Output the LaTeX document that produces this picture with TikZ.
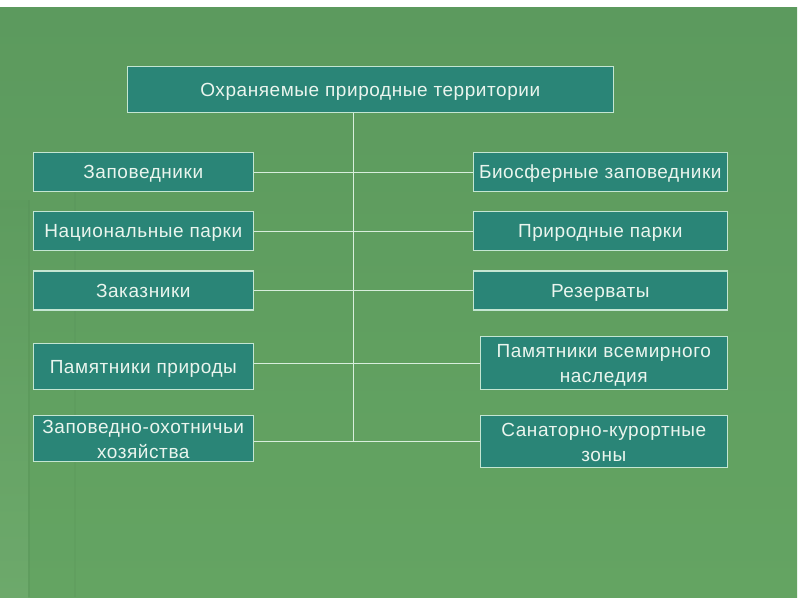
\documentclass[tikz,border=0pt]{standalone}
\usepackage{fontspec}
\setmainfont[LetterSpace=3]{Liberation Sans}
\definecolor{bgtop}{HTML}{5C9A5E}
\definecolor{bgbot}{HTML}{64A462}
\definecolor{boxfill}{HTML}{2A8577}
\definecolor{boxline}{HTML}{C4E6D2}
\definecolor{txt}{HTML}{EAF5EE}
\definecolor{conn}{HTML}{D8EEDC}
\tikzset{
  catbox/.style={draw=boxline, line width=1.3pt, fill=boxfill, text=txt,
    inner sep=0pt, align=center, text height=13.6pt, text depth=0pt,
    font=\fontsize{19}{25}\selectfont},
  twoline/.style={text height=38.6pt, text depth=0pt},
  link/.style={draw=conn, line width=0.9pt}
}
\begin{document}
\begin{tikzpicture}[x=1pt,y=-1pt]
\useasboundingbox (0,0) rectangle (800,600);
\fill[white] (0,0) rectangle (800,600);
\shade[top color=bgtop, bottom color=bgbot] (0,7) rectangle (797,597);
\shade[top color=bgtop, bottom color=bgbot!85!white, opacity=0.4] (0,200) rectangle (28,597);
\draw[bgtop!85!black, opacity=0.2, line width=1.5pt] (29,200) -- (29,597);
\draw[bgtop!85!black, opacity=0.12, line width=1.5pt] (75,150) -- (75,597);

\node[catbox, minimum width=486, minimum height=46.5] (top) at (370.3,89.4) {Охраняемые природные территории};

\node[catbox, minimum width=220, minimum height=39] (L1) at (143.3,172) {Заповедники};
\node[catbox, minimum width=220, minimum height=39] (L2) at (143.3,231) {Национальные парки};
\node[catbox, minimum width=220, minimum height=39] (L3) at (143.3,290.5) {Заказники};
\node[catbox, minimum width=220, minimum height=46] (L4) at (143.3,366.3) {Памятники природы};
\node[catbox, twoline, minimum width=220, minimum height=46] (L5) at (143.3,438.7) {Заповедно-охотничьи\\хозяйства};

\node[catbox, minimum width=254, minimum height=39] (R1) at (600.3,172) {Биосферные заповедники};
\node[catbox, minimum width=254, minimum height=39] (R2) at (600.3,231) {Природные парки};
\node[catbox, minimum width=254, minimum height=39] (R3) at (600.3,290.5) {Резерваты};
\node[catbox, twoline, minimum width=247, minimum height=52.6] (R4) at (603.8,363) {Памятники всемирного\\наследия};
\node[catbox, twoline, minimum width=247, minimum height=52] (R5) at (603.8,441.7) {Санаторно-курортные\\зоны};

\coordinate (t0) at (353.5,112.7);
\coordinate (t1) at (353.5,441.7);
\draw[link] (t0) -- (t1);
\foreach \i in {1,...,5}{
  \draw[link] (L\i.east |- R\i.west) -- (R\i.west);
}
\end{tikzpicture}
\end{document}
